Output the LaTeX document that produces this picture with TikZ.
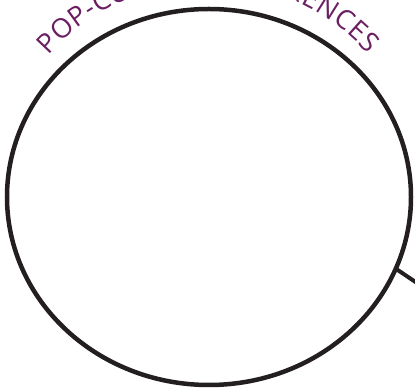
\documentclass[tikz,border=0pt]{standalone}
\usepackage{fontspec}
\setmainfont{Open Sans}
\usetikzlibrary{shapes.geometric, decorations.text}
\definecolor{mPlum}{HTML}{6A1F62}
\definecolor{mInk}{HTML}{231F20}

\begin{document}
\begin{tikzpicture}[x=1pt, y=1pt,
    bubble/.style={draw=mInk, ellipse, line width=4.5pt, inner sep=0pt, outer sep=0pt,
      minimum width=404pt, minimum height=376pt},
    tail/.style={draw=mInk, line width=4pt}]
  \useasboundingbox (0,0) rectangle (415,390);
  \clip (0,0) rectangle (415,390);
  \node[bubble] (speech) at (209,193) {};
  \coordinate (tailend) at (460,78);
  \draw[tail] (speech.-21) -- (tailend);
  % curved title, middle runs off the top
  \path[decorate, decoration={text along path, text color=mPlum,
      text align={fit to path},
      text={|\fontsize{27}{27}\selectfont|POP-CULTURE REFERENCES}}]
    ([shift={(138.5:214)}]speech.center) arc[start angle=138.5, end angle=42, radius=214];
\end{tikzpicture}
\end{document}
